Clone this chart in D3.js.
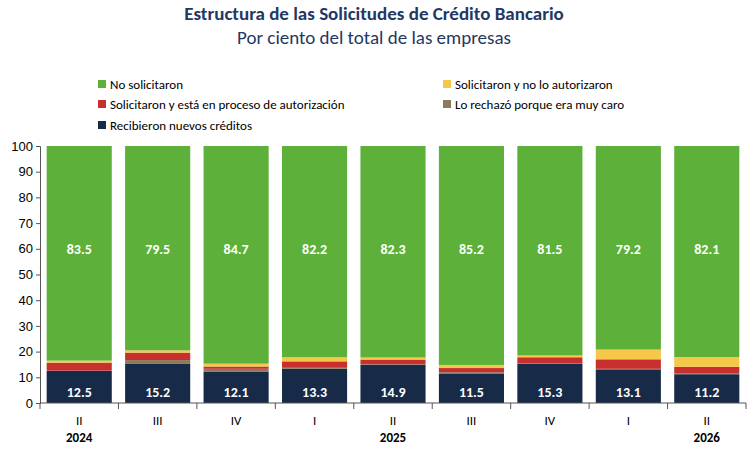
<!DOCTYPE html>
<html><head><meta charset="utf-8">
<script src="https://cdn.jsdelivr.net/npm/d3@7"></script>
<style>body{margin:0;background:#fff;font-family:Calibri,"Liberation Sans",Arial,sans-serif}</style>
</head><body><svg id="c" width="748" height="457"></svg>
<script>
const periods = ["II","III","IV","I","II","III","IV","I","II"];
const years = [{label:"2024",i:0},{label:"2025",i:4},{label:"2026",i:8}];
const recibieron = [12.5,15.2,12.1,13.3,14.9,11.5,15.3,13.1,11.2];
const muyCaro = [0.1,1.5,1.2,0.4,0.2,0.5,0.1,0.2,0.4];
const enProceso = [3.1,2.9,0.9,2.5,1.8,1.6,2.4,3.7,2.5];
const noAutorizaron = [0.8,0.9,1.1,1.6,0.8,1.2,0.7,3.8,3.8];
const noSolicitaron = [83.5,79.5,84.7,82.2,82.3,85.2,81.5,79.2,82.1];
const yTicks = [0,10,20,30,40,50,60,70,80,90,100];

const series = [
  {key:"rec", name:"Recibieron nuevos créditos", values:recibieron, color:"#172a48", label:true},
  {key:"caro", name:"Lo rechazó porque era muy caro", values:muyCaro, color:"#8c7a5a"},
  {key:"proc", name:"Solicitaron y está en proceso de autorización", values:enProceso, color:"#c7302f"},
  {key:"noaut", name:"Solicitaron y no lo autorizaron", values:noAutorizaron, color:"#f5c84a"},
  {key:"nosol", name:"No solicitaron", values:noSolicitaron, color:"#5db13a", label:true}
];

const svg = d3.select("#c");
const x = d3.scaleBand().domain(d3.range(periods.length)).range([40,746]).paddingInner(0.17).paddingOuter(0.085);
const y = d3.scaleLinear().domain([0,100]).range([403,146]);

svg.append("text").attr("x",374).attr("y",20).attr("text-anchor","middle")
  .attr("font-size",19).attr("font-weight","bold").attr("fill","#1f3864").text("Estructura de las Solicitudes de Crédito Bancario");
svg.append("text").attr("x",374).attr("y",44).attr("text-anchor","middle")
  .attr("font-size",19).attr("fill","#1f3864").text("Por ciento del total de las empresas");

// legend
const legend = [
  {s:4,x:110,y:87},{s:3,x:455,y:87},{s:2,x:110,y:107},{s:1,x:455,y:107},{s:0,x:110,y:128}
];
legend.forEach(l => {
  svg.append("rect").attr("x",l.x-12).attr("y",l.y-7).attr("width",8).attr("height",8).attr("fill",series[l.s].color);
  svg.append("text").attr("x",l.x).attr("y",l.y+1.5).attr("font-size",13).attr("fill","#000").text(series[l.s].name);
});

// stack
series.forEach((s,si) => {
  s.values.forEach((v,i) => {
    let base = 0;
    for (let k=0;k<si;k++) base += series[k].values[i];
    svg.append("rect").attr("x",x(i)).attr("width",x.bandwidth())
      .attr("y",y(base+v)).attr("height",y(base)-y(base+v)).attr("fill",s.color);
    if (s.label) {
      const ly = s.key==="rec" ? y(4.2) : y(60);
      svg.append("text").attr("x",x(i)+x.bandwidth()/2).attr("y",ly+5)
        .attr("text-anchor","middle").attr("font-size",14).attr("font-weight","bold")
        .attr("fill","#fff").text(v.toFixed(1));
    }
  });
});

// axes
const ya = svg.append("g").attr("transform","translate(40,0)")
  .call(d3.axisLeft(y).tickValues(yTicks).tickSize(4));
ya.selectAll("text").attr("font-size",13).attr("fill","#000").style("font-family","inherit");
ya.selectAll("line,path").attr("stroke","#555");

svg.append("line").attr("x1",40).attr("x2",746).attr("y1",403).attr("y2",403).attr("stroke","#555");
d3.range(periods.length+1).forEach(i => {
  const xx = 40 + i*x.step();
  svg.append("line").attr("x1",xx).attr("x2",xx).attr("y1",403).attr("y2",409).attr("stroke","#555");
});
periods.forEach((p,i) => {
  svg.append("text").attr("x",x(i)+x.bandwidth()/2).attr("y",425).attr("text-anchor","middle")
    .attr("font-size",13).text(p);
});
years.forEach(yr => {
  svg.append("text").attr("x",x(yr.i)+x.bandwidth()/2).attr("y",442).attr("text-anchor","middle")
    .attr("font-size",13).attr("font-weight","bold").text(yr.label);
});
</script></body></html>
